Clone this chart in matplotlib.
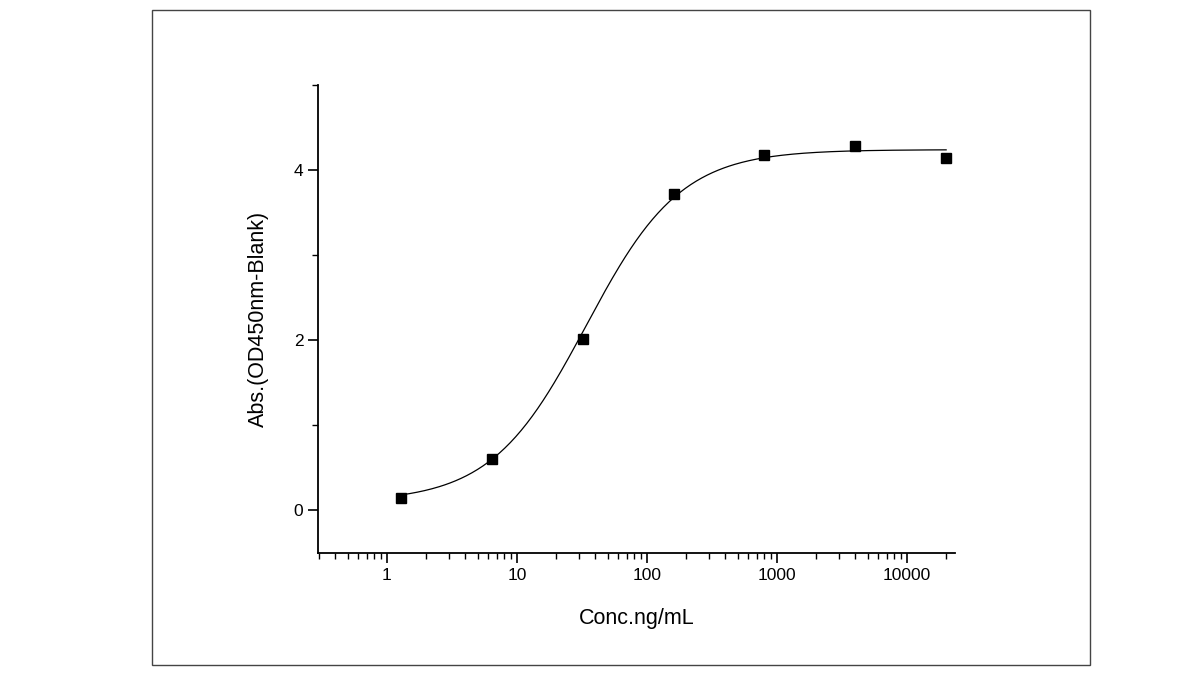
import numpy as np
import matplotlib.pyplot as plt
from matplotlib.patches import Rectangle
from matplotlib.ticker import FixedLocator, LogLocator, NullFormatter

plt.rcParams['font.family'] = ['Liberation Sans', 'DejaVu Sans']

# measured points (5-fold dilution series)
conc = [1.28, 6.4, 32, 160, 800, 4000, 20000]
od450 = [0.15, 0.60, 2.01, 3.72, 4.18, 4.28, 4.14]

# 4PL fit parameters (bottom, top, EC50, hill)
fit_bottom = 0.10
fit_top = 4.24
fit_ec50 = 34.0
fit_hill = 1.19

fig = plt.figure(figsize=(12, 6.75), dpi=100)
fig.patches.append(Rectangle((152 / 1200, 1 - 665 / 675), (1090 - 152) / 1200, 655 / 675,
                             transform=fig.transFigure, fill=False, edgecolor='#444444', lw=1))

ax = fig.add_axes([318 / 1200, 1 - 553 / 675, 637 / 1200, 468 / 675])

xs = np.logspace(np.log10(conc[0]), np.log10(conc[-1]), 300)
ys = fit_top + (fit_bottom - fit_top) / (1 + (xs / fit_ec50) ** fit_hill)
ax.plot(xs, ys, color='black', lw=0.9)
ax.plot(conc, od450, 's', color='black', markersize=7)

ax.set_xscale('log')
ax.set_xlim(0.295, 23400)
ax.set_ylim(-0.5, 5)
ax.xaxis.set_minor_locator(LogLocator(base=10, subs=np.arange(2, 10)))
ax.xaxis.set_minor_formatter(NullFormatter())
ax.set_xticks([1, 10, 100, 1000, 10000])
ax.set_xticklabels(['1', '10', '100', '1000', '10000'])
ax.yaxis.set_major_locator(FixedLocator([0, 2, 4]))
ax.yaxis.set_minor_locator(FixedLocator([1, 3, 5]))

for s in ['top', 'right']:
    ax.spines[s].set_visible(False)
for s in ['left', 'bottom']:
    ax.spines[s].set_linewidth(1.3)
ax.tick_params(which='major', direction='out', length=7, width=1.2, labelsize=12.5)
ax.tick_params(which='minor', direction='out', length=4, width=1.0)

ax.set_xlabel('Conc.ng/mL', fontsize=15.5, labelpad=18)
ax.set_ylabel('Abs.(OD450nm-Blank)', fontsize=15.5, labelpad=18)

fig.savefig('out.png', dpi=100)
